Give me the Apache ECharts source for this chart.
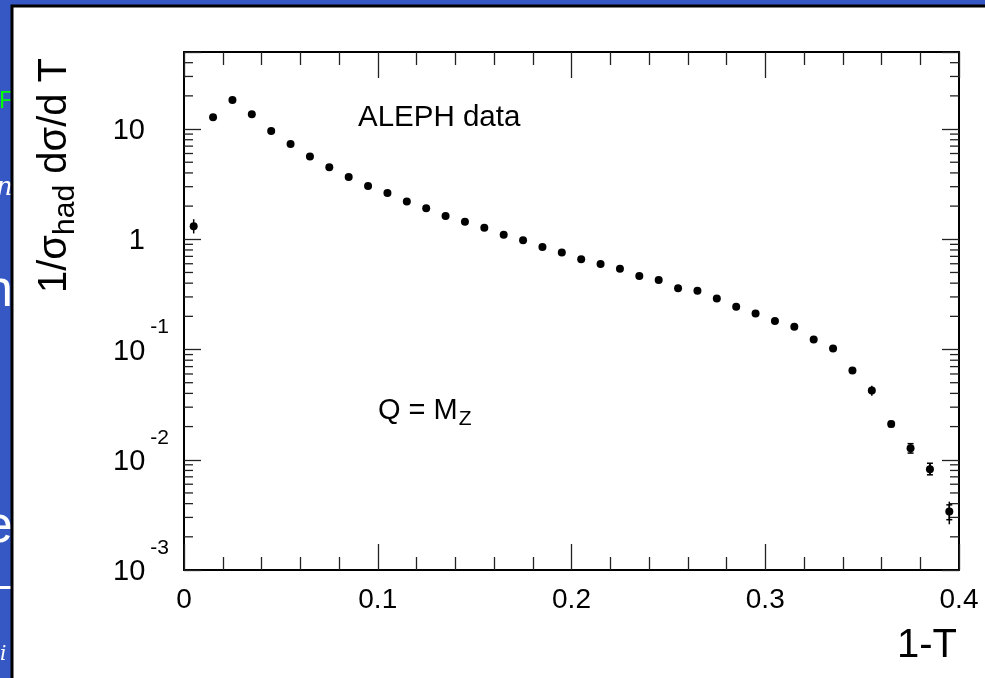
<!DOCTYPE html>
<html>
<head>
<meta charset="utf-8">
<script src="https://cdn.jsdelivr.net/npm/echarts@6/dist/echarts.min.js"></script>
<style>
  html, body { margin: 0; padding: 0; }
  #chart { width: 985px; height: 678px; }
</style>
</head>
<body>
<div id="chart"></div>
<script>
// 1-T bin centres and the measured distribution
var binCenters = [0.005, 0.015, 0.025, 0.035, 0.045, 0.055, 0.065, 0.075, 0.085, 0.095,
    0.105, 0.115, 0.125, 0.135, 0.145, 0.155, 0.165, 0.175, 0.185, 0.195,
    0.205, 0.215, 0.225, 0.235, 0.245, 0.255, 0.265, 0.275, 0.285, 0.295,
    0.305, 0.315, 0.325, 0.335, 0.345, 0.355, 0.365, 0.375, 0.385, 0.395];
var dsigma = [1.31, 12.8, 18.3, 13.6, 9.6, 7.3, 5.65, 4.51, 3.68, 3.05,
    2.63, 2.20, 1.91, 1.63, 1.44, 1.27, 1.10, 0.98, 0.851, 0.757,
    0.658, 0.597, 0.541, 0.464, 0.427, 0.359, 0.341, 0.291, 0.244, 0.212,
    0.181, 0.161, 0.123, 0.102, 0.0644, 0.0424, 0.0211, 0.0127, 0.0082, 0.0034];

// error bars that stick out of the markers
var errX = [0.005, 0.355, 0.365, 0.375, 0.385, 0.395];
var statLow = [1.27, 0.0415, 0.0200, 0.0115, 0.0073, 0.00286];
var statHigh = [1.35, 0.0433, 0.0222, 0.0140, 0.0093, 0.00390];
var totLow = [1.13, 0.038, 0.0200, 0.0115, 0.0073, 0.0026];
var totHigh = [1.52, 0.047, 0.0222, 0.0140, 0.0093, 0.00417];

var xTickLabels = ['0', '0.1', '0.2', '0.3', '0.4'];
var yDecades = [-3, -2, -1, 0, 1];
var yMin = 0.001, yMax = 50;

var chart = echarts.init(document.getElementById('chart'));

var points = binCenters.map(function (x, i) { return [x, dsigma[i]]; });
var statData = errX.map(function (x, i) { return [x, statLow[i], statHigh[i]]; });
var totData = errX.map(function (x, i) { return [x, totLow[i], totHigh[i]]; });

// ROOT style minor ticks 2..9 in each decade
var minorVals = [];
yDecades.forEach(function (e) {
    for (var m = 2; m <= 9; m++) {
        var v = m * Math.pow(10, e);
        if (v < yMax) minorVals.push([0, v]);
    }
});

function fmtY(v) {
    var lg = Math.log10(v);
    var e = Math.round(lg);
    if (Math.abs(lg - e) > 1e-6 || yDecades.indexOf(e) < 0) return '';
    if (e === 0) return '{b|1}{sp| }';
    if (e === 1) return '{b|10}{sp| }';
    return '{b|10}{sup|' + e + '}';
}

var font = 'Liberation Sans';
var tickStyle = { color: '#222', width: 1.3 };

function xAx(pos, labels) {
    return {
        type: 'value', position: pos, min: 0, max: 0.4, interval: 0.1,
        axisLine: { show: true, onZero: false, lineStyle: { color: '#000', width: 2 } },
        axisTick: { show: true, inside: true, length: 26, lineStyle: tickStyle },
        minorTick: { show: true, splitNumber: 5, length: 13, lineStyle: tickStyle },
        splitLine: { show: false },
        axisLabel: {
            show: labels, margin: 16, color: '#000', fontSize: 28, fontFamily: font,
            formatter: function (v, i) { return xTickLabels[i]; }
        }
    };
}

function yAx(pos, labels) {
    return {
        type: 'log', logBase: 10, position: pos, min: yMin, max: yMax,
        axisLine: { show: true, onZero: false, lineStyle: { color: '#000', width: 2 } },
        axisTick: { show: true, inside: true, length: 17, lineStyle: tickStyle },
        minorTick: { show: false },
        splitLine: { show: false },
        axisLabel: {
            show: labels, margin: 15, color: '#000', fontFamily: font,
            formatter: fmtY,
            rich: {
                b: { fontSize: 29, fontFamily: font, color: '#000', padding: [4, 0, 0, 0] },
                sp: { width: 24, fontSize: 20 },
                sup: { fontSize: 21, fontFamily: font, color: '#000', padding: [0, 0, 44, 5] }
            }
        }
    };
}

function errRender(caps) {
    return function (params, api) {
        var top = api.coord([api.value(0), api.value(2)]);
        var bot = api.coord([api.value(0), api.value(1)]);
        var st = { stroke: '#000', lineWidth: 1.5 };
        var kids = [{ type: 'line', shape: { x1: top[0], y1: top[1], x2: bot[0], y2: bot[1] }, style: st }];
        if (caps) {
            kids.push({ type: 'line', shape: { x1: top[0] - 3, y1: top[1], x2: top[0] + 3, y2: top[1] }, style: st });
            kids.push({ type: 'line', shape: { x1: bot[0] - 3, y1: bot[1], x2: bot[0] + 3, y2: bot[1] }, style: st });
        }
        return { type: 'group', children: kids };
    };
}

var option = {
    animation: false,
    backgroundColor: '#3658c4',
    grid: { left: 184, top: 52, right: 26, bottom: 108, containLabel: false },
    xAxis: [xAx('bottom', true), xAx('top', false)],
    yAxis: [yAx('left', true), yAx('right', false)],
    graphic: [
        // slide fragments peeking out on the left
        { type: 'text', z: -20, x: -1, y: 101, style: { text: 'F', fill: '#00ff00', font: '24px Liberation Sans', textVerticalAlign: 'middle' } },
        { type: 'text', z: -20, x: -4, y: 188, style: { text: 'n', fill: '#fff', font: 'italic 26px DejaVu Serif', textVerticalAlign: 'middle' } },
        { type: 'text', z: -20, x: -16, y: 292, style: { text: 'n', fill: '#fff', font: '52px Liberation Sans', textVerticalAlign: 'middle' } },
        { type: 'text', z: -20, x: -16, y: 528, style: { text: 'e', fill: '#fff', font: '52px Liberation Sans', textVerticalAlign: 'middle' } },
        { type: 'rect', z: -20, shape: { x: 0, y: 586, width: 12, height: 3 }, style: { fill: '#fff' } },
        { type: 'text', z: -20, x: 0, y: 655, style: { text: 'i', fill: '#fff', font: 'italic 20px DejaVu Serif', textVerticalAlign: 'middle' } },
        // white panel
        { type: 'rect', z: -10, shape: { x: 12, y: 6, width: 1000, height: 700 }, style: { fill: '#fff', stroke: '#000', lineWidth: 3 } },
        // titles and annotations
        {
            type: 'text', z: 50, x: 55, y: 293, rotation: Math.PI / 2,
            style: {
                text: '1/σ{sub|had} dσ/d T', fill: '#000', font: '40px Liberation Sans',
                textAlign: 'left', textVerticalAlign: 'middle',
                rich: { sub: { fontSize: 30, fontFamily: font, fill: '#000', padding: [22, 0, 0, 0] } }
            }
        },
        { type: 'text', z: 50, x: 957, y: 646, style: { text: '1-T', fill: '#000', font: '40px Liberation Sans', textAlign: 'right', textVerticalAlign: 'middle' } },
        { type: 'text', z: 50, x: 358, y: 118, style: { text: 'ALEPH data', fill: '#000', font: '29.5px Liberation Sans', textVerticalAlign: 'middle' } },
        {
            type: 'text', z: 50, x: 378, y: 411,
            style: {
                text: 'Q = M{z|Z}', fill: '#000', font: '29px Liberation Sans', textVerticalAlign: 'middle',
                rich: { z: { fontSize: 21, fontFamily: font, fill: '#000', padding: [16, 0, 0, 1] } }
            }
        }
    ],
    series: [
        {
            type: 'custom', name: 'minor', xAxisIndex: 0, yAxisIndex: 0, silent: true,
            encode: { x: 0, y: 1 },
            renderItem: function (params, api) {
                var l = api.coord([0, api.value(1)]);
                var r = api.coord([0.4, api.value(1)]);
                return {
                    type: 'group', children: [
                        { type: 'line', shape: { x1: l[0], y1: l[1], x2: l[0] + 9, y2: l[1] }, style: { stroke: '#222', lineWidth: 1.3 } },
                        { type: 'line', shape: { x1: r[0] - 9, y1: r[1], x2: r[0], y2: r[1] }, style: { stroke: '#222', lineWidth: 1.3 } }
                    ]
                };
            },
            data: minorVals
        },
        {
            type: 'custom', name: 'tot', silent: true, encode: { x: 0, y: [1, 2] },
            renderItem: errRender(false), data: totData
        },
        {
            type: 'custom', name: 'stat', silent: true, encode: { x: 0, y: [1, 2] },
            renderItem: errRender(true), data: statData
        },
        {
            type: 'scatter', name: 'ALEPH', symbol: 'circle', symbolSize: 8,
            itemStyle: { color: '#000', opacity: 1 }, data: points, z: 5
        }
    ]
};
chart.setOption(option);
</script>
</body>
</html>
